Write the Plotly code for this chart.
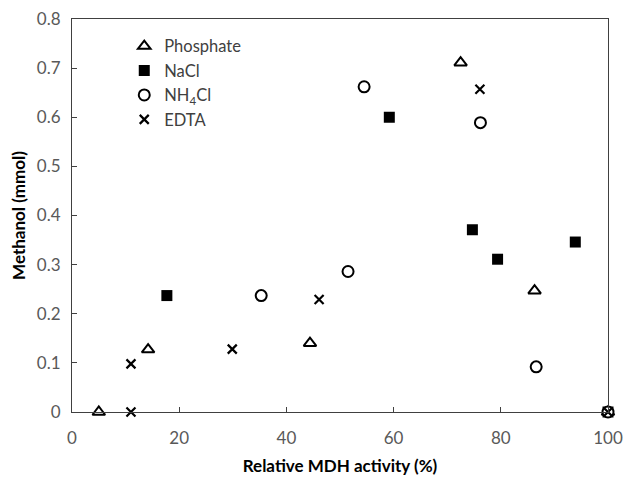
import plotly.graph_objects as go

# Data
phosphate_x = [5, 14.2, 44.4, 72.5, 86.3, 100]
phosphate_y = [0, 0.127, 0.14, 0.711, 0.247, 0]

nacl_x = [17.7, 59.2, 74.7, 79.4, 93.9, 100]
nacl_y = [0.237, 0.600, 0.371, 0.311, 0.346, 0]

nh4cl_x = [35.3, 51.5, 54.5, 76.2, 86.6, 100]
nh4cl_y = [0.237, 0.286, 0.662, 0.589, 0.092, 0]

edta_x = [11.0, 11.0, 29.9, 46.1, 76.1, 100]
edta_y = [0, 0.098, 0.128, 0.229, 0.657, 0]

x_ticks = [0, 20, 40, 60, 80, 100]
y_ticks = [0, 0.1, 0.2, 0.3, 0.4, 0.5, 0.6, 0.7, 0.8]

FONT = "Lato"

fig = go.Figure()
fig.add_trace(go.Scatter(
    x=phosphate_x, y=phosphate_y, mode="markers", name="Phosphate",
    marker=dict(symbol="triangle-up", size=11, color="white",
                line=dict(width=2, color="black"))))
fig.add_trace(go.Scatter(
    x=nacl_x, y=nacl_y, mode="markers", name="NaCl",
    marker=dict(symbol="square", size=11, color="black",
                line=dict(width=0))))
fig.add_trace(go.Scatter(
    x=nh4cl_x, y=nh4cl_y, mode="markers", name="NH<sub>4</sub>Cl",
    marker=dict(symbol="circle", size=11, color="white",
                line=dict(width=2, color="black"))))
fig.add_trace(go.Scatter(
    x=edta_x, y=edta_y, mode="markers", name="EDTA",
    marker=dict(symbol="x-thin-open", size=9, color="black",
                line=dict(width=2.2, color="black"))))

fig.update_layout(
    width=625, height=480,
    margin=dict(l=72, r=17, t=19, b=68),
    paper_bgcolor="white", plot_bgcolor="white",
    font=dict(family=FONT, size=16, color="#404040"),
    showlegend=True,
    legend=dict(x=0.0975, y=0.975, xanchor="left", yanchor="top",
                bgcolor="rgba(0,0,0,0)", borderwidth=0,
                font=dict(family=FONT, size=16.5, color="#404040"),
                itemwidth=30, tracegroupgap=0),
    xaxis=dict(range=[0, 100], tickvals=x_ticks, ticks="inside", ticklen=5,
               tickcolor="#404040", showline=True, linecolor="#404040",
               linewidth=1, mirror=True, showgrid=False, zeroline=False,
               automargin=False, ticklabelstandoff=11,
               tickfont=dict(family=FONT, size=17, color="#595959"),
               title=dict(text="<b>Relative MDH activity (%)</b>",
                          font=dict(family=FONT, size=17, color="black"),
                          standoff=12)),
    yaxis=dict(range=[0, 0.8], tickvals=y_ticks,
               ticktext=["0" if v == 0 else f"{v:.1f}" for v in y_ticks],
               ticks="inside", ticklen=5,
               tickcolor="#404040", showline=True, linecolor="#404040",
               linewidth=1, mirror=True, showgrid=False, zeroline=False,
               automargin=False, ticklabelstandoff=7,
               tickfont=dict(family=FONT, size=17, color="#595959"),
               title=dict(text="<b>Methanol (mmol)</b>",
                          font=dict(family=FONT, size=17, color="black"),
                          standoff=6)),
)
for tr in fig.data:
    tr.cliponaxis = False

fig.write_html(
    "out.html",
    config={"displayModeBar": False},
    post_script="document.body.style.margin='0';document.body.style.overflow='hidden';",
)
